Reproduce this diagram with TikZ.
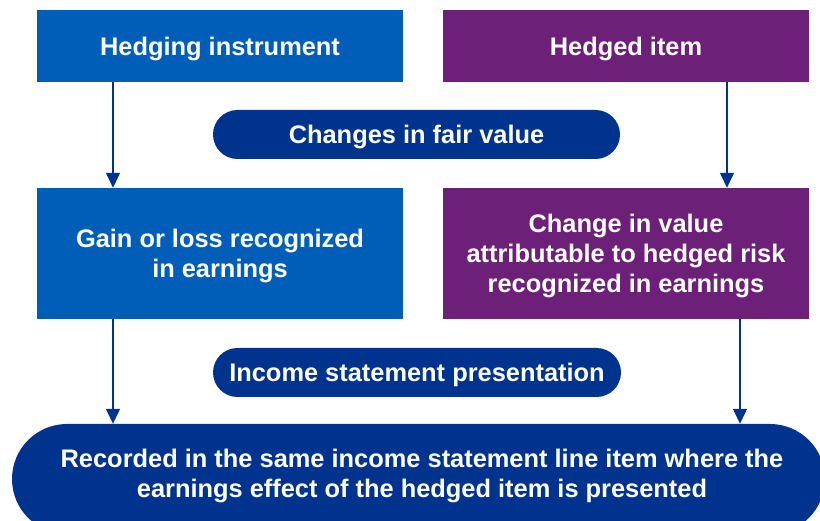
\documentclass[tikz,border=0pt]{standalone}
\usepackage{fontspec}
\setmainfont{Liberation Sans}
\usetikzlibrary{arrows.meta}
\definecolor{kblue}{RGB}{0,94,184}
\definecolor{kpurple}{RGB}{109,32,119}
\definecolor{knavy}{RGB}{0,51,141}
\tikzset{
  base/.style={inner sep=0pt, text=white, align=center, text depth=0pt,
    font=\bfseries\fontsize{25.4}{30}\selectfont},
  bluebox/.style={base, fill=kblue, minimum width=366pt},
  purplebox/.style={base, fill=kpurple, minimum width=366pt},
  pill/.style={base, fill=knavy, rounded corners=24.5pt},
  arr/.style={draw=knavy, line width=1.3pt, -{Triangle[length=15pt,width=14pt]}}
}
\begin{document}
\begin{tikzpicture}[x=1pt,y=-1pt]
\useasboundingbox (0,0) rectangle (820,521);
\clip (0,0) rectangle (820,521);
\node[bluebox, minimum height=72pt] (hi) at (220,46) {Hedging instrument};
\node[purplebox, minimum height=72pt] (hd) at (626,46) {Hedged item};
\node[pill, minimum width=407pt, minimum height=49pt] (cf) at (416.5,134.5) {Changes in fair value};
\node[bluebox, minimum height=131pt] (gl) at (220,253.5) {Gain or loss recognized\\in earnings};
\node[purplebox, minimum height=131pt] (cv) at (626,253.5) {Change in value\\attributable to hedged risk\\recognized in earnings};
\node[pill, minimum width=408pt, minimum height=49pt] (isp) at (417,372.5) {Income statement presentation};
\node[fill=knavy, rounded corners=55pt, inner sep=0pt, minimum width=813pt, minimum height=110pt] (rec) at (418.5,479) {};
\node[base] (rect) at (422,473) {Recorded in the same income statement line item where the\\earnings effect of the hedged item is presented};
\coordinate (xl) at (113,0);
\coordinate (xr1) at (727,0);
\coordinate (xr2) at (740,0);
\draw[arr] (hi.south -| xl) -- (gl.north -| xl);
\draw[arr] (hd.south -| xr1) -- (cv.north -| xr1);
\draw[arr] (gl.south -| xl) -- (rec.north -| xl);
\draw[arr] (cv.south -| xr2) -- (rec.north -| xr2);
\end{tikzpicture}
\end{document}
